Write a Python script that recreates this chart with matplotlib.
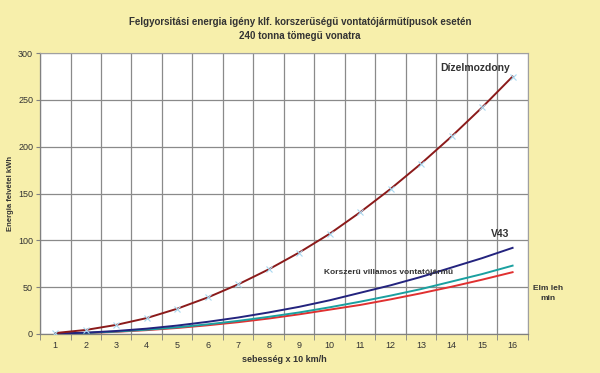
import numpy as np
import matplotlib
matplotlib.use("Agg")
import matplotlib.pyplot as plt

plt.rcParams['font.family'] = ['Liberation Sans', 'DejaVu Sans']

# sebesség (x 10 km/h)
speed = [1, 2, 3, 4, 5, 6, 7, 8, 9, 10, 11, 12, 13, 14, 15, 16]

# energia felvétel kWh
dizel = [1, 4.3, 9.7, 17, 27, 39, 53, 69, 87, 107, 130, 155, 182, 211, 242, 275]
v43 = [0.4, 1.4, 3.2, 5.7, 9, 13, 17.6, 23, 29, 36, 44, 52, 61, 71, 81, 92]
korszeru = [0.3, 1.1, 2.6, 4.6, 7.1, 10.3, 14, 18.3, 23, 28.5, 34.5, 41, 48, 56, 64, 73]
elmleh = [0.3, 1, 2.3, 4.1, 6.4, 9.3, 12.6, 16.5, 21, 26, 31, 37, 43.5, 50.5, 58, 66]

bg = '#f7efab'

fig = plt.figure(figsize=(6, 3.73), dpi=100, facecolor=bg)
ax = fig.add_axes([0.0667, 0.1046, 0.813, 0.753])
ax.set_facecolor('white')

ax.plot(speed, elmleh, color='#e03030', lw=1.4, zorder=3)
ax.plot(speed, korszeru, color='#1aa0a0', lw=1.4, zorder=3)
ax.plot(speed, v43, color='#23237e', lw=1.4, zorder=3)
ax.plot(speed, dizel, linestyle='none', marker='x', ms=5, mew=0.8,
        color='#a8d8f0', zorder=4)
ax.plot(speed, dizel, color='#8b1a1a', lw=1.4, zorder=3)

ax.set_xlim(0.5, 16.5)
ax.set_ylim(0, 300)
ax.set_yticks(range(0, 301, 50))
ax.set_xticks(speed)
ax.set_xticks(np.arange(0.5, 16.6, 1), minor=True)
ax.tick_params(axis='x', which='major', length=0, labelsize=6.5, colors='#333333', pad=5)
ax.tick_params(axis='x', which='minor', length=4, color='#808080')
ax.tick_params(axis='y', length=3, color='#808080', labelsize=6.5, labelcolor='#333333', pad=2)

ax.grid(True, which='minor', axis='x', color='#8a8a8a', lw=0.9)
ax.grid(True, which='major', axis='y', color='#8a8a8a', lw=0.9)
ax.set_axisbelow(True)
for s in ['top', 'right']:
    ax.spines[s].set_color('#a0a0a0')
    ax.spines[s].set_linewidth(0.8)
for s in ['left', 'bottom']:
    ax.spines[s].set_color('#808080')
    ax.spines[s].set_linewidth(0.9)

fig.text(0.5, 0.955, 'Felgyorsitási energia igény klf. korszerűségű vontatójárműtípusok esetén\n240 tonna tömegű vonatra',
         ha='center', va='top', fontsize=7, fontweight='bold', color='#333333', linespacing=1.5)
ax.set_xlabel('sebesség x 10 km/h', fontsize=6.5, fontweight='bold', color='#333333', labelpad=4)
ax.set_ylabel('Energia felvétel kWh', fontsize=5.5, fontweight='bold', color='#333333', labelpad=3)

ax.text(15.9, 284, 'Dízelmozdony', fontsize=7.5, fontweight='bold', color='#333333', ha='right', va='center')
ax.text(15.9, 107, 'V43', fontsize=7.5, fontweight='bold', color='#333333', ha='right', va='center')
ax.text(9.8, 66, 'Korszerű villamos vontatójármű', fontsize=6, fontweight='bold', color='#333333', ha='left', va='center')
ax.text(17.15, 43, 'Elm leh\nmin', fontsize=6, fontweight='bold', color='#333333', ha='center', va='center',
        linespacing=1.6, clip_on=False)

fig.savefig('out.png', dpi=100, facecolor=bg)
